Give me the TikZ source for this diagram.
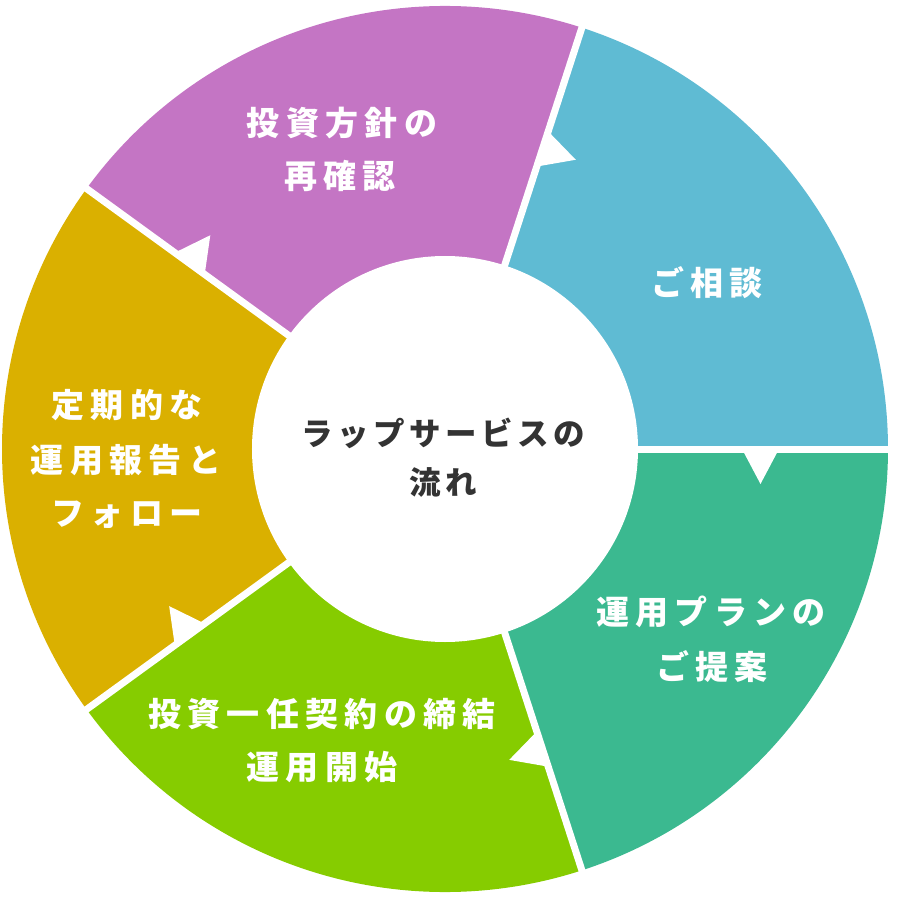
\documentclass[tikz,border=0pt]{standalone}
\usepackage{fontspec}
\newfontfamily\jp{Noto Sans CJK JP}
\usetikzlibrary{calc}
\definecolor{cblue}{HTML}{5FBBD3}
\definecolor{cpurple}{HTML}{C475C4}
\definecolor{cyellow}{HTML}{DAB000}
\definecolor{clime}{HTML}{86CC00}
\definecolor{cgreen}{HTML}{3BB990}
\definecolor{cdark}{HTML}{333333}
\newlength\lsp
\makeatletter
\def\spc#1{\spc@a#1\relax}
\def\spc@a#1{\ifx#1\relax\unkern\else#1\kern\lsp\expandafter\spc@a\fi}
\makeatother
\tikzset{
  seglab/.style={text=white, inner sep=0pt, font=\jp\bfseries\fontsize{33pt}{33pt}\selectfont\setlength\lsp{6.3pt}},
  midlab/.style={text=cdark, inner sep=0pt, font=\jp\bfseries\fontsize{31.5pt}{31.5pt}\selectfont\setlength\lsp{4.5pt}},
  gap/.style={white, line width=7pt},
}
\begin{document}
\begin{tikzpicture}[x=1pt,y=1pt]
\useasboundingbox (-445,-451) rectangle (455,449);
\coordinate (O) at (0,0);
\foreach \a/\b/\c in {0/72/cblue, 72/144/cpurple, 144/216/cyellow, 216/288/clime, 288/360/cgreen}
  \fill[\c] (O) -- (\a:443) arc[start angle=\a, end angle=\b, radius=443] -- cycle;
\foreach \t in {0,72,144,216,288}{
  \draw[gap] (\t:150) -- (\t:460);
  \fill[white] (\t:297) -- ($(\t:315.5)+(\t-90:35)$) -- (\t:334) -- cycle;
}
\fill[white] (O) circle (193);
% labels
\node[seglab] (p1) at (-103,326) {\spc{投資方針の}};
\node[seglab] (p2) at (-105,273) {\spc{再確認}};
\node[seglab] (b1) at (262,166) {\spc{ご相談}};
\node[seglab] (g1) at (266,-163) {\spc{運用プランの}};
\node[seglab] (g2) at (267,-218) {\spc{ご提案}};
\node[seglab] (l1) at (-123,-265) {\spc{投資一任契約の締結}};
\node[seglab] (l2) at (-123,-318) {\spc{運用開始}};
\node[seglab] (y1) at (-318,44) {\spc{定期的な}};
\node[seglab] (y2) at (-319,-11) {\spc{運用報告と}};
\node[seglab] (y3) at (-318,-66) {\spc{フォロー}};
\node[midlab] (c1) at (-2,16) {\spc{ラップサービスの}};
\node[midlab] (c2) at (-2,-33) {\spc{流れ}};
\end{tikzpicture}
\end{document}
